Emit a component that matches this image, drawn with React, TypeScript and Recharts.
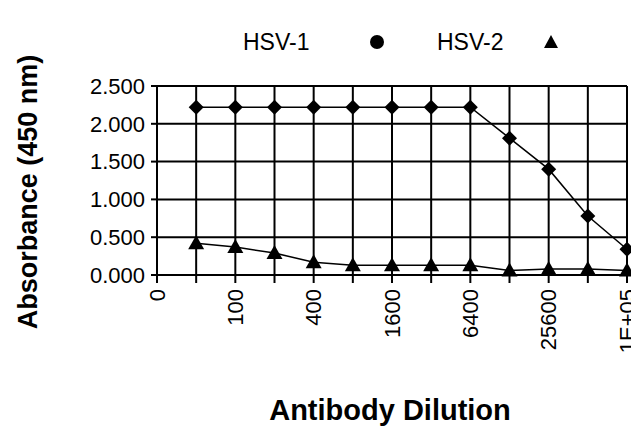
import React from 'react';
import { LineChart, Line, XAxis, YAxis, CartesianGrid } from 'recharts';

const dilutions = ['0', '50', '100', '200', '400', '800', '1600', '3200', '6400', '12800', '25600', '51200', '1E+05'];
const positions = [1, 2, 3, 4, 5, 6, 7, 8, 9, 10, 11, 12];
const hsv1 = [2.22, 2.22, 2.22, 2.22, 2.22, 2.22, 2.22, 2.22, 1.81, 1.4, 0.78, 0.34];
const hsv2 = [0.42, 0.37, 0.29, 0.17, 0.13, 0.13, 0.13, 0.13, 0.06, 0.08, 0.08, 0.06];
const yTicks = [0, 0.5, 1, 1.5, 2, 2.5];

const data = positions.map((p, i) => ({ pos: p, hsv1: hsv1[i], hsv2: hsv2[i] }));
const xTicks = dilutions.map((_, i) => i);

const FONT = '"Liberation Sans", Arial, sans-serif';

const Diamond = (props: any) => {
  const { cx, cy, index } = props;
  if (cx == null || cy == null) return null;
  const r = 7.5;
  return <polygon key={`d${index}`} points={`${cx},${cy - r} ${cx + r},${cy} ${cx},${cy + r} ${cx - r},${cy}`} fill="#000" />;
};

const Triangle = (props: any) => {
  const { cx, cy, index } = props;
  if (cx == null || cy == null) return null;
  const r = 8;
  return <polygon key={`t${index}`} points={`${cx},${cy - r} ${cx + r},${cy + 6} ${cx - r},${cy + 6}`} fill="#000" />;
};

const XTick = (props: any) => {
  const { x, y, payload } = props;
  const i = payload.value as number;
  if (i % 2 !== 0) return <g />;
  return (
    <text x={x} y={y} transform={`rotate(-90 ${x} ${y})`} textAnchor="end" dominantBaseline="central"
      fontFamily={FONT} fontSize={22} fill="#000">{dilutions[i]}</text>
  );
};

export default function App() {
  return (
    <div style={{ position: 'relative', width: 639, height: 432, margin: '-8px 0 0 -8px', background: '#fff', overflow: 'hidden' }}>
      <div style={{ position: 'absolute', left: 0, top: 0, width: 639, height: 70, fontFamily: FONT, fontSize: 23, color: '#000' }}>
        <span style={{ position: 'absolute', left: 243, top: 28, lineHeight: '28px' }}>HSV-1</span>
        <svg style={{ position: 'absolute', left: 369, top: 34 }} width={16} height={16}>
          <circle cx={8} cy={8} r={7} fill="#000" />
        </svg>
        <span style={{ position: 'absolute', left: 437, top: 28, lineHeight: '28px' }}>HSV-2</span>
        <svg style={{ position: 'absolute', left: 543, top: 34 }} width={16} height={16}>
          <polygon points="8,1 15,14 1,14" fill="#000" />
        </svg>
      </div>
      <LineChart width={639} height={432} data={data} margin={{ top: 86, right: 12, left: 97, bottom: 0 }}>
        <CartesianGrid stroke="#000" strokeWidth={2} />
        <XAxis
          dataKey="pos"
          type="number"
          domain={[0, 12]}
          ticks={xTicks}
          interval={0}
          height={157}
          stroke="#000"
          strokeWidth={2}
          tickSize={8}
          tickMargin={6}
          tickLine={{ stroke: '#000', strokeWidth: 2 }}
          tick={<XTick />}
          label={{
            content: () => (
              <text x={390} y={410} textAnchor="middle" dominantBaseline="central" fontFamily={FONT}
                fontWeight="bold" fontSize={29} fill="#000">Antibody Dilution</text>
            ),
          }}
        />
        <YAxis
          type="number"
          domain={[0, 2.5]}
          ticks={yTicks}
          interval={0}
          width={60}
          stroke="#000"
          strokeWidth={2}
          tickSize={6}
          tickMargin={6}
          tickLine={{ stroke: '#000', strokeWidth: 2 }}
          tick={{ fill: '#000', fontSize: 22, fontFamily: FONT }}
          tickFormatter={(v: number) => v.toFixed(3)}
          label={{
            content: () => (
              <text x={28} y={192} transform="rotate(-90 28 192)" textAnchor="middle" dominantBaseline="central"
                fontFamily={FONT} fontWeight="bold" fontSize={27} fill="#000">Absorbance (450 nm)</text>
            ),
          }}
        />
        <Line dataKey="hsv1" name="HSV-1" stroke="#000" strokeWidth={1.5} dot={<Diamond />} isAnimationActive={false} />
        <Line dataKey="hsv2" name="HSV-2" stroke="#000" strokeWidth={1.5} dot={<Triangle />} isAnimationActive={false} />
      </LineChart>
    </div>
  );
}
